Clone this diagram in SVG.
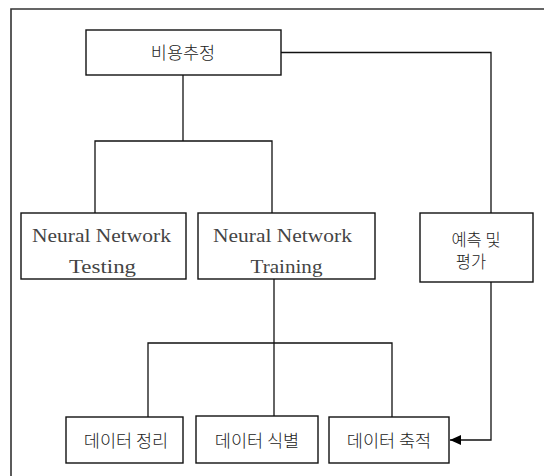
<svg xmlns="http://www.w3.org/2000/svg" width="544" height="476" viewBox="0 0 544 476">
  <defs>
    <style>
      .box { fill: #ffffff; stroke: #111; stroke-width: 1.4; }
      .wire { fill: none; stroke: #111; stroke-width: 1.3; }
      .frame { fill: none; stroke: #333; stroke-width: 1.6; }
      .ko { font-family: "Noto Sans CJK KR", "Noto Sans", sans-serif; font-size: 17.5px; font-weight: 300; fill: #222; text-anchor: middle; }
      .ko-sm { font-size: 16.5px; }
      .en { font-family: "Liberation Serif", "DejaVu Serif", serif; font-size: 18.5px; fill: #444; text-anchor: middle; }
    </style>
    <marker id="arrow" viewBox="0 0 11 10" refX="11" refY="5" markerWidth="11" markerHeight="10" markerUnits="userSpaceOnUse" orient="auto">
      <path d="M0,0 L11,5 L0,10 Z" fill="#000"/>
    </marker>
  </defs>

  <rect width="544" height="476" fill="#ffffff"/>

  <!-- outer frame: top and left edges only -->
  <path class="frame" d="M11,476 L11,9 L544,9"/>

  <!-- connectors -->
  <g id="connectors">
    <path class="wire" d="M281,52.5 L491,52.5 L491,213"/>
    <path class="wire" d="M183,75 L183,141"/>
    <path class="wire" d="M95,213 L95,141 L272,141 L272,213"/>
    <path class="wire" d="M274,279 L274,416"/>
    <path class="wire" d="M148,417 L148,343 L392,343 L392,417"/>
    <path class="wire" d="M491,282 L491,440 L450,440" marker-end="url(#arrow)"/>
  </g>

  <g id="cost-estimation">
    <rect class="box" x="86" y="30" width="195" height="45"/>
    <text class="ko" x="183" y="59">비용추정</text>
  </g>

  <g id="nn-testing">
    <rect class="box" x="21" y="213" width="165" height="66"/>
    <text class="en" x="101.5" y="242" textLength="139" lengthAdjust="spacingAndGlyphs">Neural Network</text>
    <text class="en" x="102.5" y="273" textLength="67" lengthAdjust="spacingAndGlyphs">Testing</text>
  </g>

  <g id="nn-training">
    <rect class="box" x="198" y="213" width="177" height="66"/>
    <text class="en" x="282.5" y="242" textLength="139" lengthAdjust="spacingAndGlyphs">Neural Network</text>
    <text class="en" x="286.5" y="273" textLength="72" lengthAdjust="spacingAndGlyphs">Training</text>
  </g>

  <g id="prediction-evaluation">
    <rect class="box" x="420" y="213" width="113" height="69"/>
    <text class="ko ko-sm" x="476" y="245.5">예측 및</text>
    <text class="ko ko-sm" x="471" y="267.5">평가</text>
  </g>

  <g id="data-cleanup">
    <rect class="box" x="66" y="417" width="117" height="46"/>
    <text class="ko" x="126" y="446.5">데이터 정리</text>
  </g>

  <g id="data-identification">
    <rect class="box" x="196" y="416" width="122" height="47"/>
    <text class="ko" x="257" y="446.5">데이터 식별</text>
  </g>

  <g id="data-accumulation">
    <rect class="box" x="329" y="417" width="120" height="46"/>
    <text class="ko" x="389" y="446.5">데이터 축적</text>
  </g>
</svg>
